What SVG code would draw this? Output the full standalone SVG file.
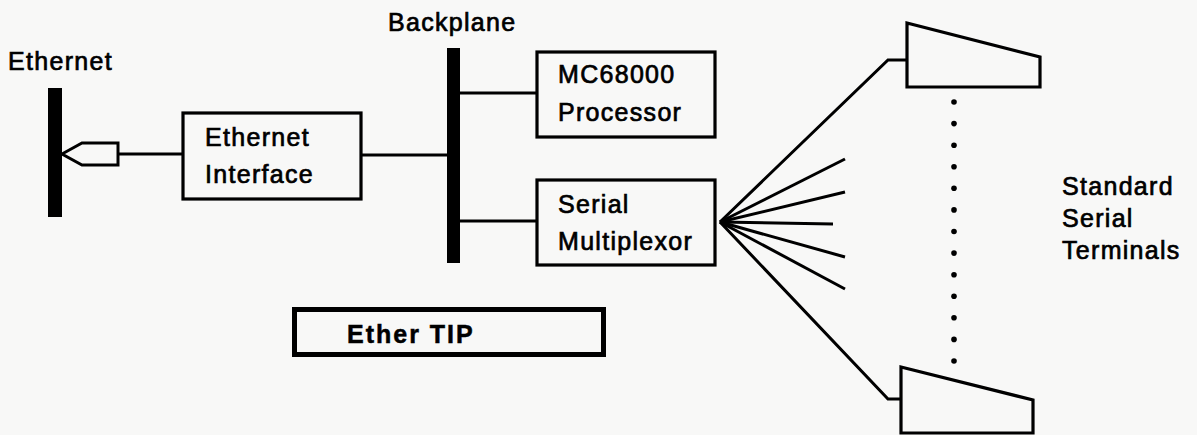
<svg xmlns="http://www.w3.org/2000/svg" width="1197" height="435" viewBox="0 0 1197 435">
<style>
.t{font-family:"Liberation Sans",Arial,sans-serif;font-size:25px;letter-spacing:1.3px;fill:#000;stroke:#000;stroke-width:0.7px}
.b{font-family:"Liberation Sans",Arial,sans-serif;font-size:25px;font-weight:bold;letter-spacing:2px;fill:#000;stroke:#000;stroke-width:0.5px}
.box{fill:none;stroke:#000;stroke-width:3.2}
.ln{fill:none;stroke:#000;stroke-width:3;stroke-linejoin:miter}
.bar{fill:#000}
</style>
<rect width="1197" height="435" fill="#f8f8f7"/>
<g id="ethernet">
<rect class="bar" x="48" y="88" width="14" height="129"/>
<text class="t" x="8" y="70">Ethernet</text>
<path class="ln" d="M62,154 L82,143 L118,143 L118,165 L82,165 Z"/>
</g>
<g id="ethernet-interface">
<rect class="box" x="183" y="113" width="178" height="86"/>
<text class="t" x="205" y="146">Ethernet</text>
<text class="t" x="205" y="183">Interface</text>
</g>
<g id="backplane">
<rect class="bar" x="447" y="48" width="13" height="215"/>
<text class="t" x="388" y="31">Backplane</text>
</g>
<g id="processor">
<rect class="box" x="537" y="52" width="178" height="85"/>
<text class="t" x="558" y="83">MC68000</text>
<text class="t" x="558" y="121">Processor</text>
</g>
<g id="multiplexor">
<rect class="box" x="537" y="180" width="178" height="85"/>
<text class="t" x="558" y="213">Serial</text>
<text class="t" x="558" y="250">Multiplexor</text>
</g>
<g id="terminal-top">
<path class="box" d="M907,23 L1040,57 L1040,87 L907,87 Z"/>
</g>
<g id="terminal-bottom">
<path class="box" d="M901,367 L1033,400 L1033,433 L901,433 Z"/>
</g>
<g id="terminals-label">
<text class="t" x="1062" y="195">Standard</text>
<text class="t" x="1062" y="227">Serial</text>
<text class="t" x="1062" y="259">Terminals</text>
<g fill="#000">
<circle cx="954" cy="102" r="2.8"/><circle cx="954" cy="123.6" r="2.8"/><circle cx="954" cy="145.2" r="2.8"/><circle cx="954" cy="166.8" r="2.8"/><circle cx="954" cy="188.3" r="2.8"/><circle cx="954" cy="209.9" r="2.8"/><circle cx="954" cy="231.5" r="2.8"/><circle cx="954" cy="253.1" r="2.8"/><circle cx="954" cy="274.7" r="2.8"/><circle cx="954" cy="296.3" r="2.8"/><circle cx="954" cy="317.8" r="2.8"/><circle cx="954" cy="339.4" r="2.8"/><circle cx="954" cy="361" r="2.8"/>
</g>
</g>
<g id="ether-tip">
<rect x="294.5" y="309.5" width="309" height="45" fill="none" stroke="#000" stroke-width="5"/>
<text class="b" x="347" y="343">Ether TIP</text>
</g>
<g id="connectors">
<line class="ln" x1="118" y1="154" x2="183" y2="154"/>
<line class="ln" x1="361" y1="155" x2="447" y2="155"/>
<line class="ln" x1="460" y1="93" x2="537" y2="93"/>
<line class="ln" x1="460" y1="221" x2="537" y2="221"/>
<path class="ln" d="M720,222 L888,60 L907,60"/>
<path class="ln" d="M720,222 L888,399 L901,399"/>
<line class="ln" x1="720" y1="222" x2="845" y2="159"/>
<line class="ln" x1="720" y1="222" x2="845" y2="192"/>
<line class="ln" x1="720" y1="222" x2="833" y2="224"/>
<line class="ln" x1="720" y1="222" x2="845" y2="257"/>
<line class="ln" x1="720" y1="222" x2="845" y2="289"/>
</g>
</svg>
